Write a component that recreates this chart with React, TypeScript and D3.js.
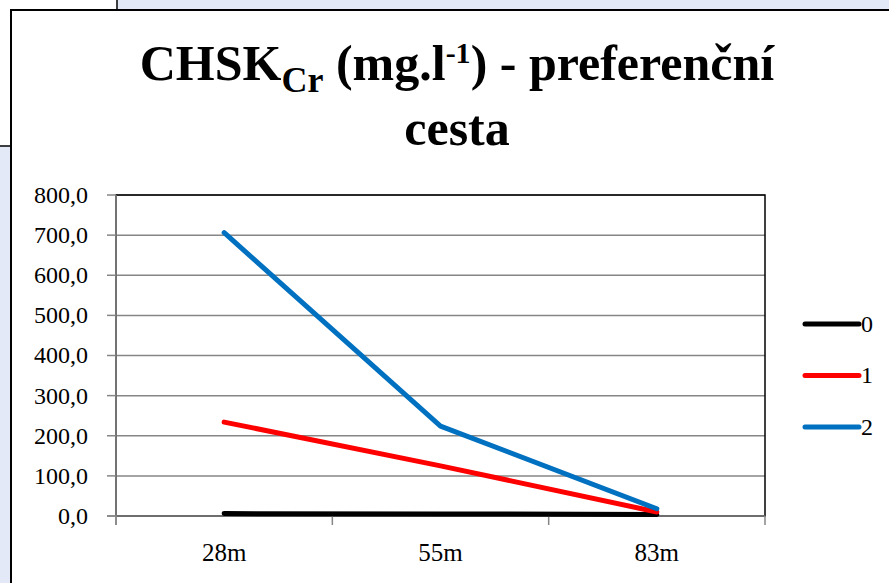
import * as d3 from "d3";

const categories = ["28m", "55m", "83m"];
const series0 = [6, 5, 4];
const series1 = [234, 125, 10];
const series2 = [706, 224, 18];
const seriesNames = ["0", "1", "2"];
const seriesColors = ["#000000", "#ff0000", "#0070c0"];
const yTicks = [0, 100, 200, 300, 400, 500, 600, 700, 800];

const W = 889;
const H = 583;
const font = "'Liberation Serif', serif";

export default function App() {
  const plot = { left: 116, right: 765, top: 195, bottom: 516 };

  const x = d3
    .scaleBand<string>()
    .domain(categories)
    .range([plot.left, plot.right]);
  const y = d3.scaleLinear().domain([0, 800]).range([plot.bottom, plot.top]);

  const cx = (c: string) => (x(c) ?? 0) + x.bandwidth() / 2;
  const line = d3
    .line<number>()
    .x((_, i) => cx(categories[i]))
    .y((d) => y(d));

  const allSeries = [series0, series1, series2];
  const fmt = (v: number) => v.toFixed(1).replace(".", ",");
  const xEdges = [...categories.map((c) => x(c) ?? 0), plot.right];

  return (
    <svg
      width={W}
      height={H}
      style={{ position: "absolute", left: 0, top: 0 }}
      fontFamily={font}
    >
      {/* surroundings */}
      <rect x={0} y={0} width={W} height={H} fill="#ffffff" />
      <rect x={117} y={0} width={W - 117} height={11} fill="#e3e9f7" />
      <rect x={0} y={146} width={11} height={H - 146} fill="#e3e9f7" />
      <line x1={117} y1={0} x2={117} y2={11} stroke="#000" strokeWidth={1.5} />
      <line x1={0} y1={146} x2={11} y2={146} stroke="#000" strokeWidth={1.5} />

      {/* chart box */}
      <rect x={11} y={10} width={W} height={H} fill="#ffffff" stroke="#000" strokeWidth={2} />

      {/* title */}
      <text x={457} y={80} textAnchor="middle" fontSize={50} fontWeight="bold">
        CHSK
        <tspan fontSize={36} dy={12}>Cr</tspan>
        <tspan dy={-12}> (mg.l</tspan>
        <tspan fontSize={30} dy={-17}>-1</tspan>
        <tspan dy={17}>) - preferenční</tspan>
      </text>
      <text x={457} y={145} textAnchor="middle" fontSize={50} fontWeight="bold">
        cesta
      </text>

      {/* gridlines */}
      {yTicks.map((t) => (
        <line
          key={t}
          x1={plot.left}
          x2={plot.right}
          y1={y(t)}
          y2={y(t)}
          stroke="#868686"
          strokeWidth={1.5}
        />
      ))}
      <rect
        x={plot.left}
        y={plot.top}
        width={plot.right - plot.left}
        height={plot.bottom - plot.top}
        fill="none"
        stroke="#000"
        strokeWidth={1.5}
      />

      {/* axes */}
      <line x1={plot.left} x2={plot.left} y1={plot.top} y2={plot.bottom + 9} stroke="#868686" strokeWidth={1.5} />
      <line x1={plot.left - 9} x2={plot.right} y1={plot.bottom} y2={plot.bottom} stroke="#868686" strokeWidth={1.5} />
      {yTicks.map((t) => (
        <g key={t}>
          <line x1={plot.left - 9} x2={plot.left} y1={y(t)} y2={y(t)} stroke="#868686" strokeWidth={1.5} />
          <text x={88} y={y(t)} dy="0.33em" textAnchor="end" fontSize={24}>
            {fmt(t)}
          </text>
        </g>
      ))}
      {xEdges.map((e, i) => (
        <line key={i} x1={e} x2={e} y1={plot.bottom} y2={plot.bottom + 9} stroke="#868686" strokeWidth={1.5} />
      ))}
      {categories.map((c) => (
        <text key={c} x={cx(c)} y={561} textAnchor="middle" fontSize={25}>
          {c}
        </text>
      ))}

      {/* series */}
      {allSeries.map((s, i) => (
        <path
          key={i}
          d={line(s) ?? ""}
          fill="none"
          stroke={seriesColors[i]}
          strokeWidth={5}
          strokeLinecap="round"
          strokeLinejoin="round"
        />
      ))}

      {/* legend */}
      {seriesNames.map((n, i) => (
        <g key={n} transform={`translate(805, ${324 + i * 51.5})`}>
          <line x1={0} x2={54} y1={0} y2={0} stroke={seriesColors[i]} strokeWidth={5} strokeLinecap="round" />
          <text x={56} y={0} dy="0.33em" fontSize={24}>
            {n}
          </text>
        </g>
      ))}
    </svg>
  );
}
